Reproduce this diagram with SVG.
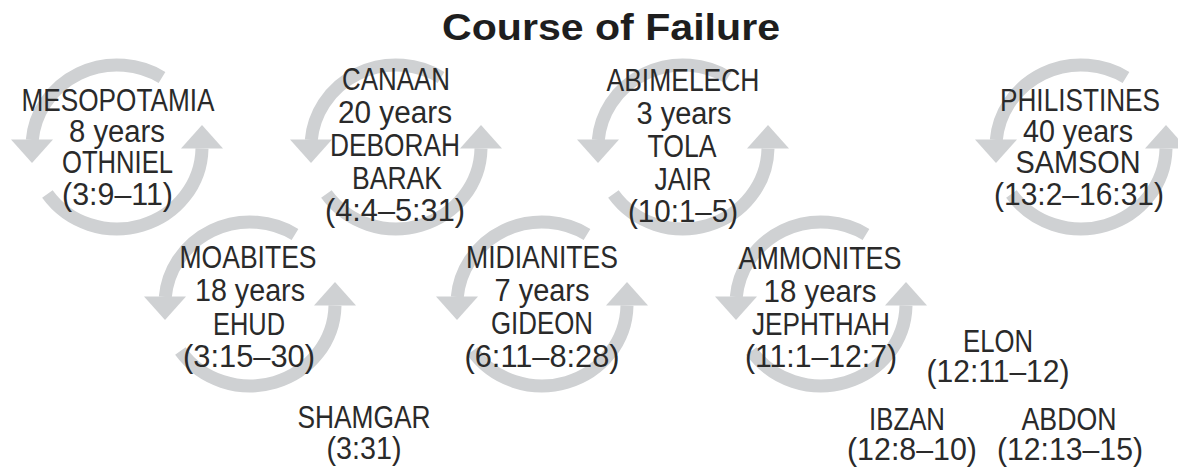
<svg xmlns="http://www.w3.org/2000/svg" xmlns:xlink="http://www.w3.org/1999/xlink" width="1178" height="468" viewBox="0 0 1178 468">
<style>
.arc{fill:none;stroke:#cfd1d3;stroke-width:13;stroke-linecap:butt}
.head{fill:#cfd1d3;stroke:none}
.t{font-family:"Liberation Sans Narrow","Liberation Sans",Arial,sans-serif;font-size:31px;fill:#2a2a2a;text-anchor:middle}
.title{font-family:"Liberation Sans",Arial,sans-serif;font-size:36px;font-weight:bold;fill:#1e1e1e;text-anchor:middle}
</style>
<defs>
<g id="cycle">
<path class="arc" d="M45 -69.5 A85 82 0 0 0 -84.7 -7"/>
<polygon class="head" points="-106,-7.5 -64,-7.5 -85,16"/>
<path class="arc" d="M-69.6 47 A85 82 0 0 0 85 1.5"/>
<polygon class="head" points="64,1.5 106,1.5 85,-22"/>
</g>
</defs>
<rect width="1178" height="468" fill="#ffffff"/>
<g id="title"><text class="title" x="611" y="40" textLength="338" lengthAdjust="spacingAndGlyphs">Course of Failure</text></g>
<g id="connectors"></g>
<g id="mesopotamia">
<use xlink:href="#cycle" href="#cycle" transform="translate(117,147)"/>
<text class="t" x="118" y="111" textLength="193" lengthAdjust="spacingAndGlyphs">MESOPOTAMIA</text>
<text class="t" x="117" y="142" textLength="96" lengthAdjust="spacingAndGlyphs">8 years</text>
<text class="t" x="117.5" y="173" textLength="111" lengthAdjust="spacingAndGlyphs">OTHNIEL</text>
<text class="t" x="117.5" y="205" textLength="111" lengthAdjust="spacingAndGlyphs">(3:9–11)</text>
</g>
<g id="canaan">
<use xlink:href="#cycle" href="#cycle" transform="translate(396,147)"/>
<text class="t" x="396" y="90" textLength="108" lengthAdjust="spacingAndGlyphs">CANAAN</text>
<text class="t" x="395" y="123" textLength="114" lengthAdjust="spacingAndGlyphs">20 years</text>
<text class="t" x="395" y="156" textLength="130" lengthAdjust="spacingAndGlyphs">DEBORAH</text>
<text class="t" x="397" y="189" textLength="90" lengthAdjust="spacingAndGlyphs">BARAK</text>
<text class="t" x="395" y="221" textLength="140" lengthAdjust="spacingAndGlyphs">(4:4–5:31)</text>
</g>
<g id="abimelech">
<use xlink:href="#cycle" href="#cycle" transform="translate(683,147)"/>
<text class="t" x="683" y="91" textLength="153" lengthAdjust="spacingAndGlyphs">ABIMELECH</text>
<text class="t" x="684" y="124" textLength="95" lengthAdjust="spacingAndGlyphs">3 years</text>
<text class="t" x="682" y="157" textLength="69" lengthAdjust="spacingAndGlyphs">TOLA</text>
<text class="t" x="683" y="190" textLength="57" lengthAdjust="spacingAndGlyphs">JAIR</text>
<text class="t" x="683" y="222" textLength="110" lengthAdjust="spacingAndGlyphs">(10:1–5)</text>
</g>
<g id="philistines">
<use xlink:href="#cycle" href="#cycle" transform="translate(1081,147)"/>
<text class="t" x="1080" y="111" textLength="160" lengthAdjust="spacingAndGlyphs">PHILISTINES</text>
<text class="t" x="1078" y="142" textLength="110" lengthAdjust="spacingAndGlyphs">40 years</text>
<text class="t" x="1078" y="173" textLength="125" lengthAdjust="spacingAndGlyphs">SAMSON</text>
<text class="t" x="1079" y="205" textLength="170" lengthAdjust="spacingAndGlyphs">(13:2–16:31)</text>
</g>
<g id="moabites">
<use xlink:href="#cycle" href="#cycle" transform="translate(250,304)"/>
<text class="t" x="248" y="268" textLength="137" lengthAdjust="spacingAndGlyphs">MOABITES</text>
<text class="t" x="250" y="301" textLength="110" lengthAdjust="spacingAndGlyphs">18 years</text>
<text class="t" x="249" y="335" textLength="72" lengthAdjust="spacingAndGlyphs">EHUD</text>
<text class="t" x="249" y="367" textLength="132" lengthAdjust="spacingAndGlyphs">(3:15–30)</text>
</g>
<g id="midianites">
<use xlink:href="#cycle" href="#cycle" transform="translate(542,304)"/>
<text class="t" x="542" y="268" textLength="152" lengthAdjust="spacingAndGlyphs">MIDIANITES</text>
<text class="t" x="542" y="301" textLength="95" lengthAdjust="spacingAndGlyphs">7 years</text>
<text class="t" x="542" y="334" textLength="102" lengthAdjust="spacingAndGlyphs">GIDEON</text>
<text class="t" x="542" y="367" textLength="155" lengthAdjust="spacingAndGlyphs">(6:11–8:28)</text>
</g>
<g id="ammonites">
<use xlink:href="#cycle" href="#cycle" transform="translate(821,304)"/>
<text class="t" x="820" y="269" textLength="163" lengthAdjust="spacingAndGlyphs">AMMONITES</text>
<text class="t" x="820" y="302" textLength="113" lengthAdjust="spacingAndGlyphs">18 years</text>
<text class="t" x="821" y="335" textLength="138" lengthAdjust="spacingAndGlyphs">JEPHTHAH</text>
<text class="t" x="821" y="367" textLength="152" lengthAdjust="spacingAndGlyphs">(11:1–12:7)</text>
</g>
<g id="shamgar">
<text class="t" x="364" y="428" textLength="133" lengthAdjust="spacingAndGlyphs">SHAMGAR</text>
<text class="t" x="364" y="459" textLength="75" lengthAdjust="spacingAndGlyphs">(3:31)</text>
</g>
<g id="elon">
<text class="t" x="998" y="352" textLength="70" lengthAdjust="spacingAndGlyphs">ELON</text>
<text class="t" x="998" y="382" textLength="143" lengthAdjust="spacingAndGlyphs">(12:11–12)</text>
</g>
<g id="ibzan">
<text class="t" x="907" y="430" textLength="76" lengthAdjust="spacingAndGlyphs">IBZAN</text>
<text class="t" x="912" y="460" textLength="130" lengthAdjust="spacingAndGlyphs">(12:8–10)</text>
</g>
<g id="abdon">
<text class="t" x="1069" y="430" textLength="95" lengthAdjust="spacingAndGlyphs">ABDON</text>
<text class="t" x="1070" y="460" textLength="146" lengthAdjust="spacingAndGlyphs">(12:13–15)</text>
</g>
</svg>
